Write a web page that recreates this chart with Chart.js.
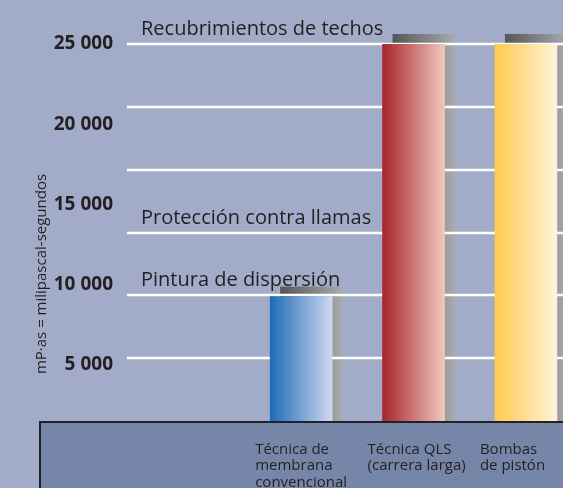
<!DOCTYPE html>
<html>
<head>
<meta charset="utf-8">
<script src="https://cdn.jsdelivr.net/npm/chart.js@4/dist/chart.umd.min.js"></script>
<style>
  html, body { margin: 0; padding: 0; background: #a2acc9; }
  #wrap { width: 563px; height: 488px; position: relative; }
</style>
</head>
<body>
<div id="wrap"><canvas id="c" width="563" height="488"></canvas></div>
<script>
// ---- data ----
const categories = [
  ['Técnica de', 'membrana', 'convencional'],
  ['Técnica QLS', '(carrera larga)'],
  ['Bombas', 'de pistón']
];
const categoryPos = [1, 2, 3];
const viscosity = [9250, 25000, 25000];
const yTicks = [5000, 10000, 15000, 20000, 25000];
const yTickLabels = ['5 000', '10 000', '15 000', '20 000', '25 000'];
const refLines = [1, 2, 3, 4, 5, 6];
const annotationTexts = ['Pintura de dispersión', 'Protección contra llamas', 'Recubrimientos de techos'];
const annotationLines = [2, 3, 6];
const yTitle = 'mP·as = milipascal-segundos';
const barColors = [['#1e6cb6', '#cfd8f1'], ['#a7262d', '#efc8bd'], ['#ffca4f', '#fff3d9']];

const BG = '#a2acc9';
const BAND = '#7686a9';
const TEXT = '#231f20';
const FONT = "'Open Sans', 'Noto Sans', sans-serif";

function barGradient(ctx) {
  const chart = ctx.chart;
  const xs = chart.scales && chart.scales.x;
  const i = ctx.dataIndex;
  const cols = barColors[i] || barColors[0];
  if (!xs || xs.width === undefined) return cols[0];
  const cx = xs.getPixelForValue(categoryPos[i]);
  const w = 62;
  const g = chart.ctx.createLinearGradient(cx - w / 2, 0, cx + w / 2, 0);
  g.addColorStop(0, cols[0]);
  g.addColorStop(1, cols[1]);
  return g;
}

const decor = {
  id: 'decor',
  beforeDraw(chart) {
    const { ctx, chartArea } = chart;
    ctx.save();
    ctx.fillStyle = BG;
    ctx.fillRect(0, 0, chart.width, chart.height);
    // bottom band
    ctx.fillStyle = BAND;
    ctx.fillRect(39, chartArea.bottom, chart.width - 39, chart.height - chartArea.bottom);
    ctx.strokeStyle = '#222226';
    ctx.lineWidth = 2;
    ctx.beginPath();
    ctx.moveTo(40, chart.height);
    ctx.lineTo(40, chartArea.bottom + 1);
    ctx.lineTo(chart.width, chartArea.bottom + 1);
    ctx.stroke();
    ctx.restore();
  },
  beforeDatasetsDraw(chart) {
    const { ctx, chartArea } = chart;
    const meta = chart.getDatasetMeta(0);
    ctx.save();
    // shadows
    meta.data.forEach((bar) => {
      const p = bar.getProps(['x', 'y', 'width'], true);
      const l = p.x - p.width / 2 + 10;
      const r = p.x + p.width / 2 + 10;
      const t = p.y - 10;
      const g = ctx.createLinearGradient(l, 0, r, 0);
      g.addColorStop(0, '#555558');
      g.addColorStop(1, '#a9aaad');
      ctx.fillStyle = g;
      ctx.fillRect(l, t, r - l, chartArea.bottom - t);
    });
    // white reference lines
    const y2 = chart.scales.y2;
    ctx.strokeStyle = '#ffffff';
    ctx.lineWidth = 2.5;
    refLines.forEach((v) => {
      const y = Math.round(y2.getPixelForValue(v));
      ctx.beginPath();
      ctx.moveTo(chartArea.left, y);
      ctx.lineTo(chart.width, y);
      ctx.stroke();
    });
    ctx.restore();
  },
  afterDraw(chart) {
    const { ctx } = chart;
    const y2 = chart.scales.y2;
    ctx.save();
    ctx.fillStyle = TEXT;
    ctx.font = "20px " + FONT;
    ctx.textAlign = 'left';
    ctx.textBaseline = 'alphabetic';
    annotationTexts.forEach((t, i) => {
      const y = y2.getPixelForValue(annotationLines[i]);
      ctx.fillText(t, 141, y - 9);
    });
    // y axis title
    ctx.font = "15px " + FONT;
    ctx.translate(42, 274);
    ctx.rotate(-Math.PI / 2);
    ctx.textAlign = 'center';
    ctx.textBaseline = 'middle';
    ctx.fillText(yTitle, 0, 0);
    ctx.restore();
  }
};

new Chart(document.getElementById('c'), {
  type: 'bar',
  data: {
    datasets: [{
      label: 'mPas',
      data: categoryPos.map((x, i) => ({ x: x, y: viscosity[i] })),
      backgroundColor: barGradient,
      borderWidth: 0,
      barThickness: 62
    }]
  },
  options: {
    responsive: false,
    animation: false,
    layout: { padding: { top: 44, right: 0, bottom: 0, left: 0 } },
    plugins: { legend: { display: false }, tooltip: { enabled: false } },
    scales: {
      x: {
        type: 'linear',
        offset: false,
        min: -0.55,
        max: 3.33,
        grid: { display: false, offset: false },
        border: { display: false },
        afterBuildTicks(scale) { scale.ticks = categoryPos.map(v => ({ value: v })); },
        afterFit(scale) { scale.height = 67; scale.paddingLeft = 0; scale.paddingRight = 0; },
        ticks: {
          align: 'start',
          labelOffset: -46,
          padding: 12,
          maxRotation: 0,
          autoSkip: false,
          color: TEXT,
          font: { family: FONT, size: 15, lineHeight: 1.12 },
          callback: (v) => categories[categoryPos.indexOf(v)] || ''
        }
      },
      y: {
        min: 1500,
        max: 25000,
        grid: { display: false, drawTicks: false },
        border: { display: false },
        afterBuildTicks(scale) { scale.ticks = yTicks.map(v => ({ value: v })); },
        afterFit(scale) { scale.width = 127; },
        ticks: {
          padding: 14,
          color: TEXT,
          font: { family: FONT, size: 19, weight: 'bold' },
          callback: (v) => yTickLabels[yTicks.indexOf(v)]
        }
      },
      y2: {
        display: false,
        min: 0,
        max: 6
      }
    }
  },
  plugins: [decor]
});
</script>
</body>
</html>
